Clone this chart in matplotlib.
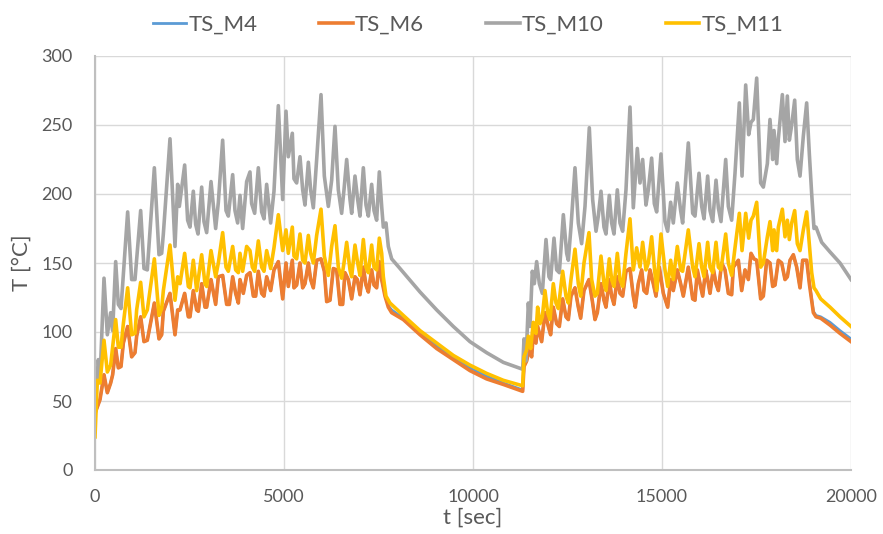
import matplotlib
matplotlib.use("Agg")
from matplotlib import pyplot as plt

plt.rcParams['font.family'] = ['Lato', 'DejaVu Sans']

###############
# DATA (t, T) #
###############
# TS_M10 (grey)
m10_t = [0, 88, 132, 238, 326, 414, 467, 547, 617, 688, 864, 970, 1058, 1208, 1296, 1384, 1570, 1693, 1764, 1808,
         1984, 2116, 2187, 2231, 2372, 2451, 2513, 2601, 2663, 2725, 2822, 2883, 2954, 3069, 3192, 3263, 3377, 3466,
         3527, 3642, 3703, 3774, 3836, 3906, 4012, 4100, 4144, 4224, 4321, 4409, 4471, 4541, 4647, 4735, 4850,
         4965, 5053, 5114, 5220, 5264, 5335, 5423, 5494, 5555, 5644, 5705, 5776, 5864, 5979, 6067, 6173, 6261, 6349,
         6437, 6525, 6587, 6658, 6746, 6790, 6878, 6949, 7010, 7099, 7169, 7231, 7319, 7381, 7451, 7522, 7584, 7628,
         7698, 7760, 7848, 8069, 8598, 9039, 9480, 9920, 10361, 10802, 11314,
         11349, 11402, 11464, 11508, 11569, 11622, 11684, 11755, 11834, 11931, 12010, 12054, 12143, 12213, 12284,
         12390, 12478, 12522, 12592, 12698, 12786, 12874, 12963, 13077, 13165, 13254, 13315, 13386, 13465, 13518,
         13606, 13668, 13730, 13818, 13888, 13959, 14047, 14153, 14241, 14347, 14418, 14488, 14576, 14638, 14726,
         14797, 14859, 14973, 15079, 15150, 15229, 15299, 15405, 15493, 15546, 15696,
         15812, 15873, 15979, 16050, 16111, 16208, 16270, 16341, 16429, 16491, 16561, 16685, 16755, 16843, 16931,
         17046, 17117, 17214, 17293, 17355, 17416, 17505, 17610, 17681, 17787, 17857, 17928, 17963, 18034, 18078,
         18184, 18254, 18316, 18369, 18431, 18510, 18580, 18651, 18739, 18827, 18898, 18960, 19021, 19074, 19224,
         19445, 19709, 20000]
m10_T = [45, 80, 65, 139, 98, 114, 101, 151, 120, 117, 187, 138, 138, 188, 146, 145, 219, 156, 157, 171,
         240, 162, 207, 191, 221, 181, 176, 202, 178, 171, 205, 180, 172, 209, 175, 194, 239, 188,
         184, 214, 188, 179, 199, 175, 209, 216, 193, 186, 219, 187, 182, 207, 179, 202, 264,
         196, 260, 227, 244, 211, 208, 227, 203, 192, 223, 203, 190, 225, 272, 213, 191, 210, 249,
         203, 186, 203, 225, 196, 186, 213, 196, 184, 219, 192, 184, 207, 188, 181, 216, 191, 176,
         179, 162, 153, 146, 129, 116, 104, 93, 85, 78, 73,
         95, 79, 121, 104, 144, 135, 151, 135, 128, 167, 140, 138, 168, 145, 143,
         185, 157, 152, 176, 219, 179, 164, 191, 248, 196, 173, 184, 202, 176, 171,
         199, 179, 171, 203, 179, 173, 203, 263, 190, 233, 208, 225, 192, 203, 226,
         193, 187, 229, 180, 173, 194, 179, 208, 188, 179, 237,
         186, 184, 215, 191, 182, 213, 188, 180, 210, 190, 180, 225, 191, 181, 215,
         266, 213, 279, 243, 252, 254, 284, 208, 205, 222, 254, 225, 246, 222, 240,
         272, 238, 271, 239, 250, 268, 225, 213, 242, 266, 229, 200, 175, 176, 165,
         158, 150, 138]

# TS_M11 (yellow)
m11_t = [0, 62, 132, 238, 326, 414, 467, 547, 617, 688, 750, 864, 970, 1058, 1102, 1208, 1296, 1384, 1570, 1693,
         1764, 1808, 1984, 2116, 2187, 2249, 2372, 2469, 2513, 2601, 2690, 2822, 2910, 2954, 3069, 3192, 3263, 3377,
         3466, 3527, 3642, 3721, 3792, 3836, 3906, 4012, 4100, 4162, 4224, 4321, 4409, 4471, 4541, 4647, 4735, 4850,
         4965, 5053, 5114, 5220, 5264, 5335, 5423, 5494, 5555, 5644, 5705, 5776, 5864, 5979, 6067, 6173, 6261, 6349,
         6437, 6525, 6587, 6658, 6746, 6790, 6878, 6949, 7010, 7099, 7169, 7231, 7319, 7381, 7451, 7522, 7584, 7628,
         7698, 7804, 8157, 8598, 9039, 9480, 9920, 10361, 10802, 11314,
         11349, 11419, 11464, 11525, 11596, 11666, 11710, 11772, 11834, 11904, 11975, 12037, 12125, 12195, 12257,
         12372, 12460, 12522, 12592, 12698, 12786, 12848, 12936, 13068, 13139, 13227, 13289, 13386, 13465, 13518,
         13606, 13668, 13730, 13818, 13888, 13959, 14047, 14153, 14241, 14329, 14418, 14488, 14576, 14638, 14726,
         14797, 14859, 14973, 15079, 15150, 15229, 15299, 15405, 15493, 15546, 15696,
         15812, 15873, 15979, 16050, 16111, 16208, 16270, 16341, 16429, 16491, 16561, 16685, 16755, 16843, 16931,
         17046, 17117, 17214, 17293, 17355, 17416, 17505, 17610, 17681, 17787, 17857, 17928, 17963, 18034, 18078,
         18184, 18254, 18316, 18369, 18431, 18510, 18580, 18651, 18739, 18827, 18898, 18960, 19021, 19074, 19198,
         19445, 19709, 20000]
m11_T = [24, 65, 63, 94, 71, 76, 89, 109, 89, 89, 106, 132, 98, 99, 116, 136, 111, 116, 153, 112,
         117, 130, 163, 123, 140, 135, 157, 133, 132, 152, 130, 156, 135, 133, 159, 140, 150, 172,
         147, 144, 162, 145, 143, 157, 144, 162, 159, 147, 144, 166, 147, 144, 159, 146, 161, 185,
         159, 174, 157, 176, 155, 153, 171, 152, 150, 170, 157, 150, 170, 189, 155, 141, 162, 177,
         147, 139, 150, 165, 145, 140, 163, 150, 141, 167, 147, 143, 163, 147, 145, 168, 157, 140,
         126, 121, 112, 101, 92, 83, 76, 70, 65, 61,
         82, 87, 97, 88, 107, 99, 118, 106, 111, 130, 114, 109, 135, 121, 117,
         144, 126, 121, 138, 160, 135, 126, 150, 172, 138, 126, 128, 155, 135, 130,
         153, 138, 133, 157, 138, 133, 157, 182, 145, 161, 147, 165, 145, 150, 169,
         147, 130, 171, 145, 133, 152, 138, 162, 145, 144, 174,
         147, 140, 164, 147, 140, 165, 147, 143, 165, 147, 145, 171, 150, 141, 161,
         186, 159, 186, 168, 181, 184, 194, 147, 150, 169, 180, 159, 174, 159, 176,
         189, 169, 181, 167, 179, 188, 164, 159, 174, 187, 164, 143, 132, 130, 124,
         118, 111, 104]

# TS_M6 (orange) and TS_M4 (blue, almost on top of M6)
m6_t = [0, 132, 238, 326, 414, 467, 547, 617, 688, 750, 864, 970, 1058, 1102, 1208, 1296, 1384, 1570, 1693, 1764,
        1808, 1984, 2116, 2187, 2249, 2372, 2469, 2513, 2601, 2690, 2734, 2822, 2910, 2954, 3069, 3192, 3263, 3377,
        3483, 3554, 3642, 3721, 3792, 3836, 3924, 4012, 4100, 4189, 4250, 4321, 4409, 4471, 4541, 4647, 4735, 4850,
        4965, 5053, 5114, 5220, 5264, 5335, 5423, 5494, 5555, 5644, 5705, 5776, 5864, 5979, 6067, 6129, 6217, 6305,
        6393, 6481, 6552, 6613, 6702, 6790, 6878, 6940, 7010, 7099, 7169, 7231, 7319, 7381, 7451, 7522, 7584, 7672,
        7760, 7848, 8157, 8598, 9039, 9480, 9920, 10361, 10802, 11314,
        11349, 11419, 11490, 11552, 11596, 11666, 11710, 11816, 11904, 11993, 12054, 12125, 12213, 12284, 12372,
        12460, 12522, 12592, 12698, 12786, 12848, 12936, 13068, 13165, 13227, 13289, 13386, 13465, 13518, 13606,
        13668, 13730, 13818, 13888, 13959, 14047, 14153, 14241, 14294, 14373, 14462, 14523, 14594, 14682, 14770,
        14841, 14929, 15035, 15150, 15229, 15299, 15405, 15493, 15564, 15696,
        15812, 15873, 15935, 16006, 16076, 16155, 16208, 16270, 16358, 16429, 16491, 16579, 16667, 16755, 16843,
        16887, 17020, 17108, 17196, 17284, 17355, 17434, 17505, 17610, 17681, 17769, 17857, 17928, 17990, 18078,
        18166, 18254, 18316, 18387, 18475, 18563, 18651, 18721, 18827, 18898, 19004, 19074, 19198, 19445, 19709,
        20000]
m6_T = [41, 51, 69, 56, 63, 69, 88, 74, 75, 92, 104, 82, 85, 97, 111, 93, 94, 121, 95, 98,
        115, 128, 98, 116, 116, 128, 111, 111, 130, 116, 115, 135, 118, 118, 138, 120, 140, 141,
        120, 120, 140, 128, 121, 138, 128, 141, 143, 126, 126, 144, 128, 126, 140, 130, 145, 151,
        124, 150, 133, 152, 132, 134, 150, 132, 135, 150, 138, 132, 152, 153, 144, 122, 123, 146,
        145, 120, 120, 143, 138, 124, 140, 138, 127, 147, 134, 129, 145, 134, 132, 151, 138, 126,
        118, 114, 109, 98, 88, 80, 72, 66, 62, 57,
        75, 79, 88, 82, 99, 92, 104, 93, 114, 104, 98, 118, 106, 104, 124,
        111, 109, 126, 132, 118, 110, 130, 138, 121, 109, 114, 135, 123, 118, 138,
        126, 120, 140, 128, 126, 144, 146, 126, 118, 135, 145, 130, 128, 145, 135,
        126, 147, 128, 118, 138, 130, 145, 135, 126, 147,
        124, 123, 145, 135, 126, 145, 138, 128, 146, 135, 130, 150, 145, 128, 127,
        147, 152, 130, 145, 138, 157, 153, 152, 124, 126, 152, 150, 133, 134, 152,
        150, 138, 140, 152, 156, 147, 132, 152, 152, 135, 114, 111, 110, 105, 99,
        93]
m4_T = [41, 51, 69, 56, 63, 69, 88, 74, 75, 92, 104, 82, 85, 97, 111, 93, 94, 121, 95, 98,
        115, 128, 98, 116, 116, 128, 111, 111, 130, 116, 115, 135, 118, 118, 138, 120, 140, 141,
        120, 120, 140, 128, 121, 138, 128, 141, 143, 126, 126, 144, 128, 126, 140, 130, 145, 151,
        124, 150, 133, 152, 132, 134, 150, 132, 135, 150, 138, 132, 152, 153, 144, 122, 123, 146,
        145, 120, 120, 143, 138, 124, 140, 138, 127, 147, 134, 129, 145, 134, 132, 151, 138, 127,
        119, 116, 110, 100, 90, 82, 74, 68, 63, 58,
        75, 79, 88, 82, 99, 92, 104, 93, 114, 104, 98, 118, 106, 104, 124,
        111, 109, 126, 132, 118, 110, 130, 138, 121, 109, 114, 135, 123, 118, 138,
        126, 120, 140, 128, 126, 144, 146, 126, 118, 135, 145, 130, 128, 145, 135,
        126, 147, 128, 118, 138, 130, 145, 135, 126, 147,
        124, 123, 145, 135, 126, 145, 138, 128, 146, 135, 130, 150, 145, 128, 127,
        147, 152, 130, 145, 139, 157, 153, 152, 124, 126, 152, 150, 133, 134, 152,
        150, 138, 140, 152, 156, 147, 132, 152, 152, 136, 115, 112, 111, 107, 101,
        95]

series_names = ['TS_M4', 'TS_M6', 'TS_M10', 'TS_M11']
x_ticks = [0, 5000, 10000, 15000, 20000]
y_ticks = [0, 50, 100, 150, 200, 250, 300]

########
# PLOT #
########
fig = plt.figure(figsize=(8.83, 5.34), dpi=100)
ax = fig.add_axes([95 / 883, 1 - 470 / 534, 756 / 883, 414 / 534])

ax.plot(m6_t, m4_T, color='#5B9BD5', lw=2.0, label=series_names[0], solid_joinstyle='round')
ax.plot(m6_t, m6_T, color='#ED7D31', lw=2.6, label=series_names[1], solid_joinstyle='round')
ax.plot(m10_t, m10_T, color='#A5A5A5', lw=2.6, label=series_names[2], solid_joinstyle='round')
ax.plot(m11_t, m11_T, color='#FFC000', lw=2.6, label=series_names[3], solid_joinstyle='round')

ax.set_xlim(0, 20000)
ax.set_ylim(0, 300)
ax.set_xticks(x_ticks)
ax.set_yticks(y_ticks)
ax.grid(color='#D9D9D9', lw=1)
ax.set_axisbelow(True)
for s in ['top', 'right']:
    ax.spines[s].set_visible(False)
for s in ['left', 'bottom']:
    ax.spines[s].set_color('#BFBFBF')
    ax.spines[s].set_linewidth(1.5)
ax.tick_params(length=0, labelsize=13, colors='#595959')
ax.tick_params(axis='y', pad=16)
ax.tick_params(axis='x', pad=14)

fig.text(22 / 883, 1 - 263 / 534, 'T [°C]', rotation=90, ha='center', va='center',
         fontsize=16, color='#595959')
fig.text(473 / 883, 1 - 518 / 534, 't [sec]', ha='center', va='center',
         fontsize=16, color='#595959')

fig.legend(loc='upper center', bbox_to_anchor=(468 / 883, 1.01), ncol=4, frameon=False,
           fontsize=16, handlelength=1.5, handletextpad=0.1, columnspacing=2.8,
           labelcolor='#595959')

fig.savefig('out.png', dpi=100)
